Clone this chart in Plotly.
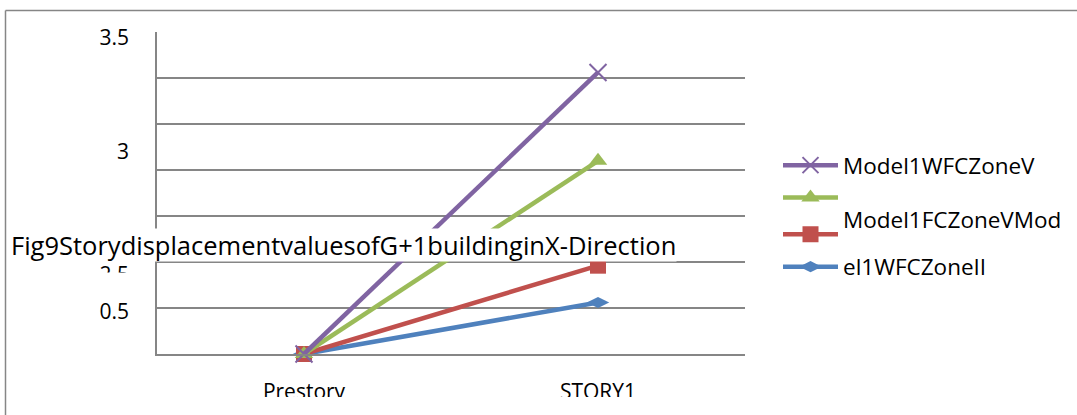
import plotly.graph_objects as go

# Story displacement data (X-direction), G+1 building
stories = ["Prestory", "STORY1"]
zone_ii_wfc = [0.0, 0.56]
zone_v_fc_mod = [0.0, 0.96]
zone_v_green = [0.0, 2.10]
zone_v_wfc = [0.0, 3.06]

series_names = ["el1WFCZoneII", "Model1FCZoneVMod<br> ", "", "Model1WFCZoneV"]
series_colors = ["#4F81BD", "#C0504D", "#9BBB59", "#8064A2"]
series_symbols = ["diamond-wide", "square", "triangle-up", "x-thin"]
series_legends = ["legend3", "legend2", "legend", "legend"]
series_values = [zone_ii_wfc, zone_v_fc_mod, zone_v_green, zone_v_wfc]

# value-axis labels as they appear on the printed figure
y_tick_text = ["3.5", "3", "2.5", "0.5"]
y_tick_pos = [3.435, 2.196, 0.86, 0.457]

title_text = "Fig9StorydisplacementvaluesofG+1buildinginX-Direction"

W, H = 1077, 415
L, R, T, B = 157, 745, 32, 354  # plot area in pixels
GRID = "#868686"
FONT = "Open Sans"
LEG_FONT = 22.5


def px(x):
    return (x - L) / (R - L)


def py(y):
    return (B - y) / (B - T)


fig = go.Figure()
for name, color, sym, leg, vals in zip(series_names, series_colors, series_symbols,
                                       series_legends, series_values):
    marker = dict(symbol=sym, size=16, color=color)
    if sym == "x-thin":
        marker = dict(symbol=sym, size=17, color=color, line=dict(width=2, color=color))
    fig.add_trace(go.Scatter(
        x=stories, y=vals, name=name, mode="lines+markers", legend=leg,
        line=dict(color=color, width=4.5), marker=marker, cliponaxis=False,
    ))


def legend_box(top_px):
    return dict(
        traceorder="reversed", x=px(778), y=py(top_px), xanchor="left", yanchor="top",
        font=dict(size=LEG_FONT), itemwidth=55, bgcolor="rgba(0,0,0,0)",
    )


fig.update_layout(
    width=W, height=H,
    margin=dict(l=L, r=W - R, t=T, b=H - B, autoexpand=False),
    paper_bgcolor="white", plot_bgcolor="white",
    font=dict(family=FONT, size=21, color="black"),
    showlegend=True,
    legend=legend_box(144),
    legend2=legend_box(198.5),
    legend3=legend_box(245.5),
    xaxis=dict(
        type="category", range=[-0.5, 1.5], showgrid=False, zeroline=False,
        showline=True, linecolor=GRID, linewidth=1.5, ticks="",
        ticklabelstandoff=18, tickfont=dict(size=21),
    ),
    yaxis=dict(
        range=[0, 3.5], showgrid=False, zeroline=False,
        showline=True, linecolor=GRID, linewidth=1.5, ticks="",
        tickvals=y_tick_pos, ticktext=y_tick_text, tickfont=dict(size=21),
        ticklabelstandoff=22,
        minor=dict(showgrid=True, dtick=0.5, tick0=0, gridcolor=GRID, gridwidth=1.5, ticks=""),
    ),
)

fig.add_annotation(
    text=title_text, xref="paper", yref="paper", x=px(10), y=py(244.5),
    xanchor="left", yanchor="middle", showarrow=False,
    font=dict(family=FONT, size=25.5, color="black"),
    bgcolor="white", borderpad=0, height=32,
)

# outer frame (top and left edges)
fig.add_shape(type="line", xref="paper", yref="paper", x0=px(5.5), x1=px(W), y0=py(10.5), y1=py(10.5),
              line=dict(color=GRID, width=1.5), layer="above")
fig.add_shape(type="line", xref="paper", yref="paper", x0=px(5.5), x1=px(5.5), y0=py(10.5), y1=py(H),
              line=dict(color=GRID, width=1.5), layer="above")
# trimmed edges of the printed figure
fig.add_shape(type="rect", xref="paper", yref="paper", x0=px(90), x1=px(145), y0=py(272.5), y1=py(292),
              fillcolor="white", line=dict(width=0), layer="above")
fig.add_shape(type="rect", xref="paper", yref="paper", x0=px(8), x1=px(W), y0=py(397), y1=py(H),
              fillcolor="white", line=dict(width=0), layer="above")

fig.write_html("out.html")
